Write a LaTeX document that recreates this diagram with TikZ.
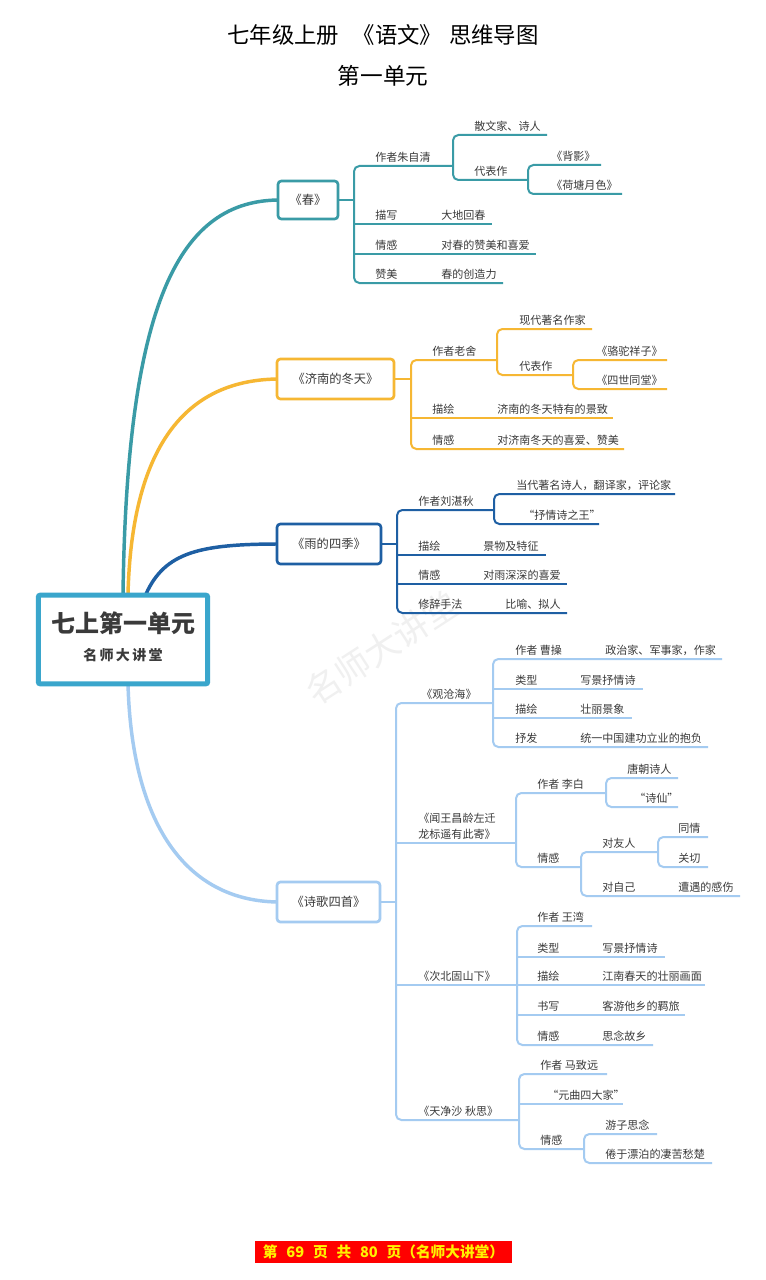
\documentclass[tikz,border=0pt]{standalone}
\usepackage{fontspec}
\setmainfont{Noto Sans CJK SC}
\definecolor{tealc}{RGB}{58,155,166}
\definecolor{orng}{RGB}{246,183,51}
\definecolor{dblu}{RGB}{30,95,163}
\definecolor{lblu}{RGB}{164,203,241}
\definecolor{cenc}{RGB}{58,166,204}
\definecolor{txt}{RGB}{58,58,58}
\definecolor{wmk}{RGB}{240,240,240}
\tikzset{
 lbl/.style={inner sep=0pt, anchor=base west, yshift=3.6pt, font=\fontsize{8.3}{10}\selectfont, text=txt},
 tl/.style={draw=tealc, line width=1.5pt},
 ol/.style={draw=orng, line width=1.5pt},
 dl/.style={draw=dblu, line width=1.5pt},
 ll/.style={draw=lblu, line width=1.5pt},
 bx/.style={draw=#1, line width=2pt, fill=white, rounded corners=2.5pt, text=txt, font=\fontsize{9.2}{11}\selectfont, inner sep=0pt},
 curve/.style={draw=#1, line width=2.6pt, line cap=round},
}
\newcommand\lb[4]{\node[lbl] (#1) at (#2,#3) {#4};}
\newcommand\fork[7]{\draw[#1,rounded corners=4pt] (#4,#3) -- (#2,#3) -- (#2,#5) -- (#6,#5);
 \foreach \yy/\ee in {#7}{\draw[#1] (#2,\yy) -- (\ee,\yy);}}
\newcommand\forkk[6]{\draw[#1,rounded corners=4pt] (#4,#3) -- (#2,#3) -- (#2,#5) -- (#6,#5);}
\begin{document}
\begin{tikzpicture}[x=0.75pt,y=-0.75pt]
\useasboundingbox (0,0) rectangle (766,1280);
\fill[white] (0,0) rectangle (766,1280);
% watermark
\node[rotate=33, text=wmk, font=\fontsize{26}{26}\selectfont, inner sep=0] (wm) at (382,648) {名师大讲堂};
% titles
\node[font=\fontsize{16.8}{19}\selectfont, text=black] (title) at (383,35) {七年级上册\hspace{0.6em}《语文》\hspace{0.3em}思维导图};
\node[font=\fontsize{17}{19}\selectfont, text=black] (sub) at (383,76) {第一单元};
% curves (drawn first, boxes cover their ends)
\coordinate (s1) at (123,594);
\coordinate (s2) at (128,594);
\coordinate (s3) at (146,594);
\coordinate (s4) at (128,684);
\coordinate (w1) at (280,200);
\coordinate (w2) at (280,379);
\coordinate (w3) at (280,544);
\coordinate (w4) at (280,902);
\draw[curve=tealc] (s1) .. controls (127,300) and (180,200) .. (w1);
\draw[curve=orng] (s2) .. controls (132,440) and (190,379) .. (w2);
\draw[curve=dblu] (s3) .. controls (165,552) and (200,544) .. (w3);
\draw[curve=lblu] (s4) .. controls (132,830) and (190,902) .. (w4);
% main boxes
\node[bx=tealc, minimum width=45pt, minimum height=28.5pt] (chun) at (308,200) {《春》};
\node[bx=orng, minimum width=87.75pt, minimum height=30pt] (jinan) at (335.5,379) {《济南的冬天》};
\node[bx=dblu, minimum width=78pt, minimum height=30pt] (yu) at (329,544) {《雨的四季》};
\node[bx=lblu, minimum width=77.25pt, minimum height=30pt] (shige) at (328.5,902) {《诗歌四首》};
% central node
\node[draw=cenc, line width=3.8pt, fill=white, rounded corners=1.5pt, minimum width=127pt, minimum height=66.5pt, inner sep=0] (center) at (123,639.5) {};
\node[font=\fontsize{18}{20}\selectfont\bfseries, text=txt] (ct1) at (123,623) {七上第一单元};
\node[font=\fontsize{10.5}{12}\selectfont\bfseries, text=txt] (ct2) at (123,655) {名\,师\,大\,讲\,堂};
% ---- 春 ----
\fork{tl}{354}{166}{453}{283}{503}{224/492,254/536}
\forkk{tl}{453}{135}{547}{180}{528}
\forkk{tl}{528}{165}{601}{194}{622}
\draw[tl] (chun.east) -- (354,200);
\lb{a1}{375}{166}{作者朱自清}
\lb{a2}{474}{135}{散文家、诗人}
\lb{a3}{474}{180}{代表作}
\lb{a4}{551}{165}{《背影》}
\lb{a5}{551}{194}{《荷塘月色》}
\lb{a6}{375}{224}{描写}
\lb{a7}{441}{224}{大地回春}
\lb{a8}{375}{254}{情感}
\lb{a9}{441}{254}{对春的赞美和喜爱}
\lb{a10}{375}{283}{赞美}
\lb{a11}{441}{283}{春的创造力}
% ---- 济南的冬天 ----
\fork{ol}{411}{360}{497}{449}{624}{418/613}
\forkk{ol}{497}{329}{592}{375}{573}
\forkk{ol}{573}{360}{667}{389}{667}
\draw[ol] (jinan.east) -- (411,379);
\lb{b1}{432}{360}{作者老舍}
\lb{b2}{519}{329}{现代著名作家}
\lb{b3}{519}{375}{代表作}
\lb{b4}{596}{360}{《骆驼祥子》}
\lb{b5}{596}{389}{《四世同堂》}
\lb{b6}{432}{418}{描绘}
\lb{b7}{497}{418}{济南的冬天特有的景致}
\lb{b8}{432}{449}{情感}
\lb{b9}{497}{449}{对济南冬天的喜爱、赞美}
% ---- 雨的四季 ----
\fork{dl}{397}{510}{494}{613}{567}{555/546,584/567}
\forkk{dl}{494}{494}{675}{524}{599}
\draw[dl] (yu.east) -- (397,544);
\lb{c1}{418}{510}{作者刘湛秋}
\lb{c2}{516}{494}{当代著名诗人，翻译家，评论家}
\lb{c3}{523}{524}{“抒情诗之王”}
\lb{c4}{418}{555}{描绘}
\lb{c5}{483}{555}{景物及特征}
\lb{c6}{418}{584}{情感}
\lb{c7}{483}{584}{对雨深深的喜爱}
\lb{c8}{418}{613}{修辞手法}
\lb{c9}{505}{613}{比喻、拟人}
% ---- 诗歌四首 ----
\fork{ll}{396}{703}{493}{1120}{518}{843/516,985/517}
\draw[ll] (shige.east) -- (396,902);
% 观沧海
\fork{ll}{493}{659}{722}{747}{708}{689/643,718/632}
\lb{d0}{421}{703}{《观沧海》}
\lb{d1}{515}{659}{作者 曹操}
\lb{d2}{605}{659}{政治家、军事家，作家}
\lb{d3}{515}{689}{类型}
\lb{d4}{580}{689}{写景抒情诗}
\lb{d5}{515}{718}{描绘}
\lb{d6}{580}{718}{壮丽景象}
\lb{d7}{515}{747}{抒发}
\lb{d8}{580}{747}{统一中国建功立业的抱负}
% 闻王昌龄
\forkk{ll}{516}{793}{606}{867}{581}
\forkk{ll}{606}{778}{678}{807}{678}
\forkk{ll}{581}{852}{658}{896}{740}
\forkk{ll}{658}{837}{708}{867}{708}
\lb{e0}{418}{827}{《闻王昌龄左迁}
\lb{e0b}{418}{843}{龙标遥有此寄》}
\lb{e1}{537}{793}{作者 李白}
\lb{e2}{627}{778}{唐朝诗人}
\lb{e3}{634}{807}{“诗仙”}
\lb{e4}{537}{867}{情感}
\lb{e5}{602}{852}{对友人}
\lb{e6}{678}{837}{同情}
\lb{e7}{678}{867}{关切}
\lb{e8}{602}{896}{对自己}
\lb{e9}{678}{896}{遭遇的感伤}
% 次北固山下
\fork{ll}{517}{926}{592}{1045}{653}{957/665,985/705,1015/685}
\lb{f0}{418}{985}{《次北固山下》}
\lb{f1}{537}{926}{作者 王湾}
\lb{f2}{537}{957}{类型}
\lb{f3}{602}{957}{写景抒情诗}
\lb{f4}{537}{985}{描绘}
\lb{f5}{602}{985}{江南春天的壮丽画面}
\lb{f6}{537}{1015}{书写}
\lb{f7}{602}{1015}{客游他乡的羁旅}
\lb{f8}{537}{1045}{情感}
\lb{f9}{602}{1045}{思念故乡}
% 天净沙 秋思
\fork{ll}{519}{1074}{607}{1149}{584}{1104/623}
\forkk{ll}{584}{1134}{657}{1163}{712}
\lb{g0}{418}{1120}{《天净沙 秋思》}
\lb{g1}{540}{1074}{作者 马致远}
\lb{g2}{547}{1104}{“元曲四大家”}
\lb{g3}{540}{1149}{情感}
\lb{g4}{605}{1134}{游子思念}
\lb{g5}{605}{1163}{倦于漂泊的凄苦愁楚}
% footer
\node[fill=red, text=yellow, font=\fontsize{11}{13}\selectfont\bfseries, minimum width=192.75pt, minimum height=16.5pt, inner sep=0] (foot) at (383.5,1252) {第\hspace{0.6em}69\hspace{0.6em}页\hspace{0.6em}共\hspace{0.6em}80\hspace{0.6em}页（名师大讲堂）};
\end{tikzpicture}
\end{document}
